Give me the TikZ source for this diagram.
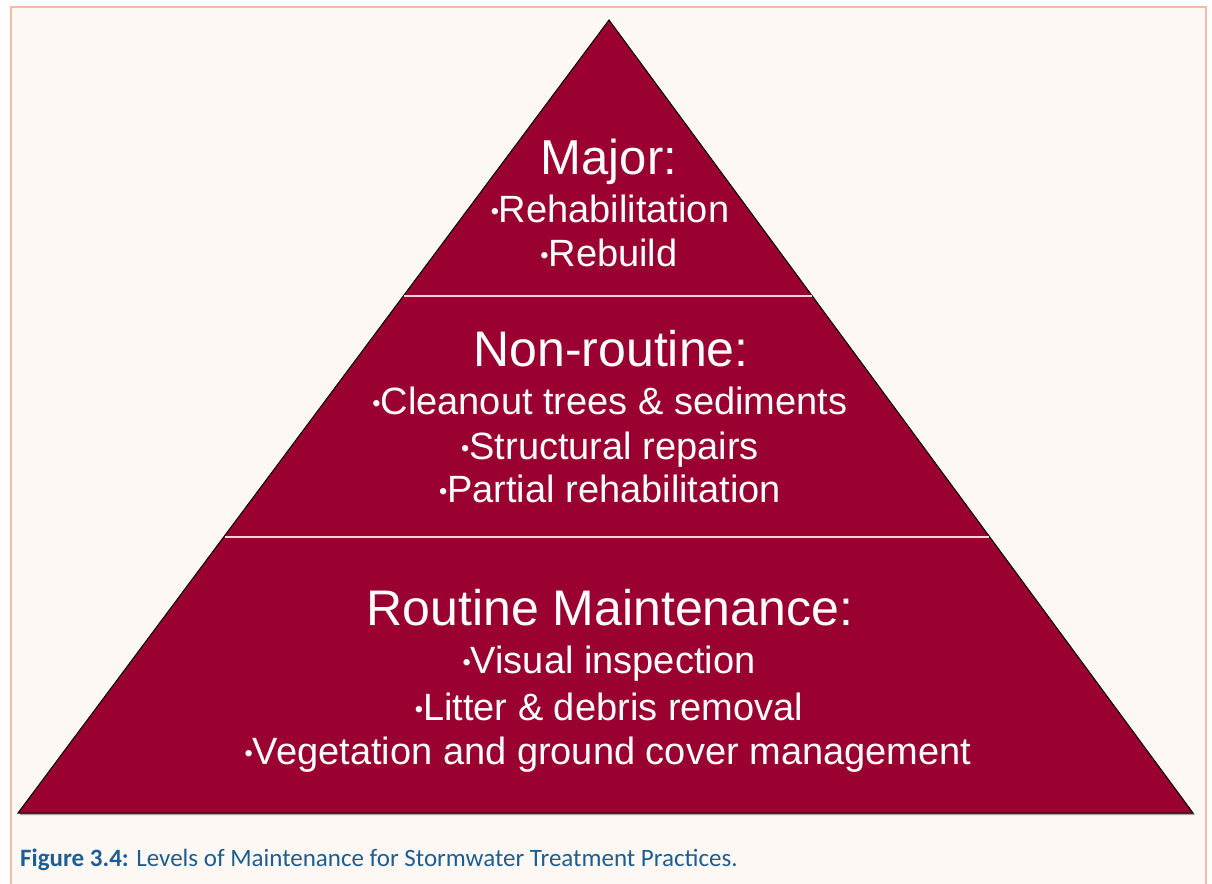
\documentclass[tikz,border=0pt]{standalone}
\usepackage{graphicx}
\usepackage{fontspec}
\setmainfont{Liberation Sans}
\newfontfamily\capfont{Carlito}
\definecolor{bgcream}{HTML}{FEF8F4}
\definecolor{frameorange}{HTML}{F3BBA3}
\definecolor{pyrred}{HTML}{9A0030}
\definecolor{divline}{HTML}{F7D3DA}
\definecolor{capblue}{HTML}{1D5E92}
\newcommand\mybul{\raisebox{0.06em}{\scalebox{0.62}{•}}}
\tikzset{
  head/.style={anchor=base, text=white, inner sep=0pt, font=\fontsize{50}{50}\selectfont},
  item/.style={anchor=base, text=white, inner sep=0pt, font=\fontsize{38}{38}\selectfont},
  divider/.style={divline, line width=2.5pt},
}
\begin{document}
\begin{tikzpicture}[x=1pt,y=-1pt]
\useasboundingbox (0,0) rectangle (1212,883);
\fill[white] (0,0) rectangle (1212,883);
\fill[bgcream] (11,7) rectangle (1206,890);
\draw[frameorange, line width=2pt] (11,890) -- (11,7) -- (1206,7) -- (1206,890);
% pyramid
\coordinate (apex) at (609,20);
\coordinate (bl) at (18,813);
\coordinate (br) at (1193,813);
\fill[black!70, opacity=0.5] (610.5,22) -- (1195,815) -- (19.5,815) -- cycle;
\filldraw[fill=pyrred, draw=black, line width=1pt] (apex) -- (br) -- (bl) -- cycle;
\draw[divider] (404,296) -- (812,296);
\draw[divider] (225,537) -- (989,537);
% texts
\node[head, font=\fontsize{49}{49}\selectfont] (major) at (609,174) {Major:};
\node[item] (rehab) at (610,222) {\mybul Rehabilitation};
\node[item] (rebuild) at (609,266) {\mybul Rebuild};
\node[head] (nonr) at (611,366) {Non-routine:};
\node[item] (clean) at (610,414) {\mybul Cleanout trees \& sediments};
\node[item] (struct) at (610,459) {\mybul Structural repairs};
\node[item] (partial) at (610,502) {\mybul Partial rehabilitation};
\node[head] (routine) at (610,625) {Routine Maintenance:};
\node[item] (visual) at (609,673) {\mybul Visual inspection};
\node[item] (litter) at (609,720) {\mybul Litter \& debris removal};
\node[item] (veg) at (608,764) {\mybul Vegetation and ground cover management};
% caption
\node[anchor=base west, inner sep=0pt, text=capblue, font=\capfont\fontsize{25}{25}\selectfont] (caption) at (20,866) {\textbf{Figure 3.4:} Levels of Maintenance for Stormwater Treatment Practices.};
\end{tikzpicture}
\end{document}
